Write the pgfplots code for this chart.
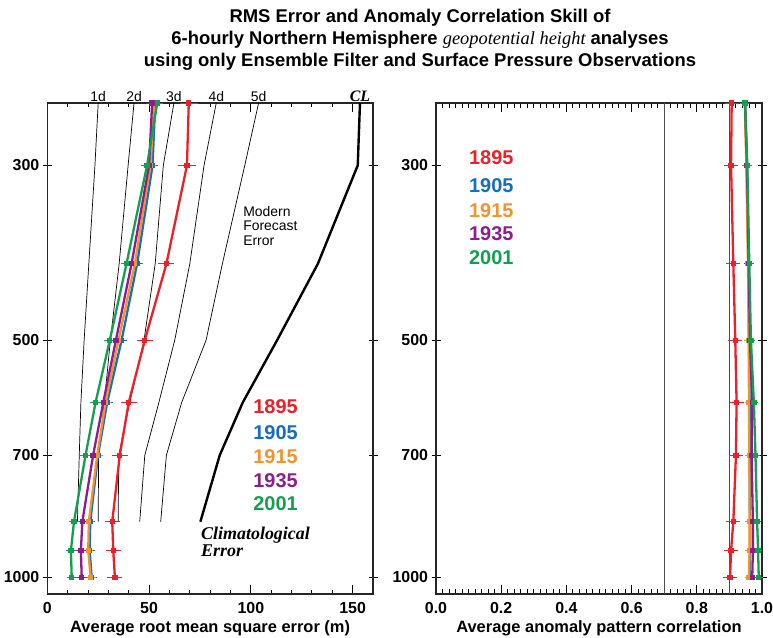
\documentclass[border=0pt]{standalone}
\usepackage{pgfplots}
\pgfplotsset{compat=1.18}
\usepackage{fontspec}
\setmainfont{Liberation Sans}
\newfontfamily\timesf{Liberation Serif}
\definecolor{cred}{RGB}{236,32,40}
\definecolor{cblue}{RGB}{22,110,190}
\definecolor{corange}{RGB}{242,148,44}
\definecolor{cpurple}{RGB}{140,30,140}
\definecolor{cgreen}{RGB}{20,158,80}
\pgfplotsset{
  ser/.style={color=#1, line width=2.3bp, mark=square*, mark size=1.5bp,
    error bars/.cd, x dir=both, x explicit, error bar style={line width=0.8bp},
    error mark options={mark size=3bp, line width=0.8bp}},
  fc/.style={black, line width=0.7bp},
  every tick label/.append style={font=\bfseries\fontsize{16}{16}\selectfont},
}
\begin{document}
\begin{tikzpicture}[x=1bp,y=1bp]
\useasboundingbox (0,0) rectangle (773,638);
\node[align=center, font=\bfseries\fontsize{18.5}{22}\selectfont] at (420,598)
 {RMS Error and Anomaly Correlation Skill of\\
  6-hourly Northern Hemisphere {\timesf\mdseries\itshape geopotential height} analyses\\
  using only Ensemble Filter and Surface Pressure Observations};

\begin{axis}[at={(47.3bp,44bp)}, anchor=south west, scale only axis,
  width=325.7bp, height=491bp, clip=false,
  xmin=0, xmax=160, ymode=log, y dir=reverse, ymin=250, ymax=1050,
  xtick={0,50,100,150}, minor x tick num=4,
  ytick={300,500,700,1000}, yticklabels={300,500,700,1000}, yminorticks=false,
  /pgf/number format/assume math mode=true,
  xtick align=inside, ytick align=center,
  major tick length=9bp, minor tick length=4bp,
  tick style={black, line width=0.9bp},
  axis line style={black!85, line width=1.3bp},
  xticklabel style={yshift=-5bp},
  xlabel={Average root mean square error (m)},
  xlabel style={font=\bfseries\fontsize{16.5}{16.5}\selectfont, at={(axis description cs:0.5,0)}, anchor=center, yshift=-34bp},
]
% modern forecast error lines
\addplot[fc] coordinates {(25,250) (23.4,300) (20.4,400) (18.1,500) (16.5,600) (15.7,700) (14.8,850)};
\addplot[fc] coordinates {(42.6,250) (39.7,300) (35.3,400) (31,500) (28,600) (25.2,700) (25,850)};
\addplot[fc] coordinates {(62.2,250) (57,300) (53,400) (47.5,500) (40.5,600) (35.1,700) (34.8,850)};
\addplot[fc] coordinates {(83,250) (77,300) (70,400) (62.6,500) (54.8,600) (47.9,700) (45.4,850)};
\addplot[fc] coordinates {(103.8,250) (97,300) (86,400) (78,500) (66,600) (58.5,700) (55.7,850)};
\addplot[black, line width=2.4bp] coordinates {(153.6,250) (152.5,300) (132.9,400) (112.9,500) (96,600) (84.7,700) (75.2,850)};
% analyses
\addplot[ser=cred] table[x=x, y=p, x error=e, row sep=\\] {
p x e\\ 250 69.5 3\\ 300 68.6 3\\ 400 58.5 2.5\\ 500 47.9 2.5\\ 600 40 2.5\\ 700 35.6 2.5\\ 850 31.9 2.2\\ 925 32.4 2.2\\ 1000 33.2 2.2\\};
\addplot[ser=cblue] table[x=x, y=p, x error=e, row sep=\\] {
p x e\\ 250 53 1.3\\ 300 51.7 1.3\\ 400 44.1 1.2\\ 500 36.5 1.2\\ 600 29.4 1.2\\ 700 24.9 1.2\\ 850 21.1 1\\ 925 20.8 1\\ 1000 21.8 1\\};
\addplot[ser=corange] table[x=x, y=p, x error=e, row sep=\\] {
p x e\\ 250 52.5 1.3\\ 300 50.7 1.3\\ 400 43 1.2\\ 500 35 1.2\\ 600 28.6 1.2\\ 700 24.5 1.2\\ 850 20.4 1\\ 925 20.1 1\\ 1000 21.3 1\\};
\addplot[ser=cpurple] table[x=x, y=p, x error=e, row sep=\\] {
p x e\\ 250 51.5 1.3\\ 300 50 1.3\\ 400 41.4 1.2\\ 500 33.7 1.2\\ 600 27.5 1.2\\ 700 22.5 1.2\\ 850 17.2 1\\ 925 16.5 1\\ 1000 16.9 1\\};
\addplot[ser=cgreen] table[x=x, y=p, x error=e, row sep=\\] {
p x e\\ 250 54 1.3\\ 300 49 1.3\\ 400 38.9 1.2\\ 500 30.7 1.2\\ 600 23.7 1.2\\ 700 18.8 1.2\\ 850 13.1 1\\ 925 11.6 1\\ 1000 12 1\\};
% labels
\node[anchor=south, font=\fontsize{14}{14}\selectfont, inner sep=1.5bp] at (axis cs:25,250) {1d};
\node[anchor=south, font=\fontsize{14}{14}\selectfont, inner sep=1.5bp] at (axis cs:42.6,250) {2d};
\node[anchor=south, font=\fontsize{14}{14}\selectfont, inner sep=1.5bp] at (axis cs:62.2,250) {3d};
\node[anchor=south, font=\fontsize{14}{14}\selectfont, inner sep=1.5bp] at (axis cs:83,250) {4d};
\node[anchor=south, font=\fontsize{14}{14}\selectfont, inner sep=1.5bp] at (axis cs:103.8,250) {5d};
\node[anchor=south, font=\timesf\bfseries\itshape\fontsize{16}{16}\selectfont, inner sep=1.5bp] at (axis cs:153.6,250) {CL};
\node[anchor=north west, align=left, inner sep=0, font=\fontsize{14}{14.5}\selectfont] at (rel axis cs:0.601,0.79) {Modern\\Forecast\\Error};
\node[anchor=north west, align=left, inner sep=0, font=\timesf\bfseries\itshape\fontsize{18}{17}\selectfont] at (rel axis cs:0.472,0.137) {Climatological\\Error};
\node[anchor=west, inner sep=0, text=cred, font=\bfseries\fontsize{20}{20}\selectfont] at (rel axis cs:0.632,0.381) {1895};
\node[anchor=west, inner sep=0, text=cblue, font=\bfseries\fontsize{20}{20}\selectfont] at (rel axis cs:0.632,0.328) {1905};
\node[anchor=west, inner sep=0, text=corange, font=\bfseries\fontsize{20}{20}\selectfont] at (rel axis cs:0.632,0.279) {1915};
\node[anchor=west, inner sep=0, text=cpurple, font=\bfseries\fontsize{20}{20}\selectfont] at (rel axis cs:0.632,0.230) {1935};
\node[anchor=west, inner sep=0, text=cgreen, font=\bfseries\fontsize{20}{20}\selectfont] at (rel axis cs:0.632,0.185) {2001};
\end{axis}

\begin{axis}[at={(436bp,44bp)}, anchor=south west, scale only axis,
  width=326bp, height=491bp, clip=false,
  xmin=0, xmax=1, ymode=log, y dir=reverse, ymin=250, ymax=1050,
  xtick={0,0.2,0.4,0.6,0.8,1.0}, xticklabels={0.0,0.2,0.4,0.6,0.8,1.0}, minor x tick num=9,
  ytick={300,500,700,1000}, yticklabels={300,500,700,1000}, yminorticks=false,
  xtick align=inside, ytick align=center,
  major tick length=9bp, minor tick length=5bp,
  tick style={black, line width=0.9bp},
  axis line style={black!85, line width=1.3bp},
  xticklabel style={yshift=-5bp},
  xlabel={Average anomaly pattern correlation},
  xlabel style={font=\bfseries\fontsize{16.5}{16.5}\selectfont, at={(axis description cs:0.5,0)}, anchor=center, yshift=-34bp},
]
\addplot[black!70, line width=1.1bp] coordinates {(0.7,250) (0.7,1050)};
\addplot[black!70, line width=1.1bp] coordinates {(0.9,250) (0.9,1050)};
\addplot[ser=cred] table[x=x, y=p, x error=e, row sep=\\] {
p x e\\ 250 0.907 0.012\\ 300 0.905 0.012\\ 400 0.912 0.012\\ 500 0.918 0.012\\ 600 0.922 0.012\\ 700 0.920 0.012\\ 850 0.912 0.012\\ 925 0.905 0.012\\ 1000 0.902 0.012\\};
\addplot[ser=cblue] table[x=x, y=p, x error=e, row sep=\\] {
p x e\\ 250 0.948 0.004\\ 300 0.953 0.004\\ 400 0.958 0.004\\ 500 0.960 0.004\\ 600 0.962 0.004\\ 700 0.962 0.004\\ 850 0.963 0.004\\ 925 0.963 0.004\\ 1000 0.962 0.004\\};
\addplot[ser=corange] table[x=x, y=p, x error=e, row sep=\\] {
p x e\\ 250 0.947 0.004\\ 300 0.952 0.004\\ 400 0.957 0.004\\ 500 0.959 0.004\\ 600 0.960 0.004\\ 700 0.961 0.004\\ 850 0.962 0.004\\ 925 0.962 0.004\\ 1000 0.960 0.004\\};
\addplot[ser=cpurple] table[x=x, y=p, x error=e, row sep=\\] {
p x e\\ 250 0.948 0.004\\ 300 0.954 0.004\\ 400 0.959 0.004\\ 500 0.963 0.004\\ 600 0.970 0.004\\ 700 0.968 0.004\\ 850 0.972 0.004\\ 925 0.972 0.004\\ 1000 0.970 0.004\\};
\addplot[ser=cgreen] table[x=x, y=p, x error=e, row sep=\\] {
p x e\\ 250 0.948 0.004\\ 300 0.955 0.004\\ 400 0.961 0.004\\ 500 0.966 0.004\\ 600 0.975 0.004\\ 700 0.980 0.004\\ 850 0.985 0.004\\ 925 0.988 0.004\\ 1000 0.990 0.004\\};
\node[anchor=west, inner sep=0, text=cred, font=\bfseries\fontsize{20}{20}\selectfont] at (rel axis cs:0.101,0.888) {1895};
\node[anchor=west, inner sep=0, text=cblue, font=\bfseries\fontsize{20}{20}\selectfont] at (rel axis cs:0.101,0.831) {1905};
\node[anchor=west, inner sep=0, text=corange, font=\bfseries\fontsize{20}{20}\selectfont] at (rel axis cs:0.101,0.780) {1915};
\node[anchor=west, inner sep=0, text=cpurple, font=\bfseries\fontsize{20}{20}\selectfont] at (rel axis cs:0.101,0.733) {1935};
\node[anchor=west, inner sep=0, text=cgreen, font=\bfseries\fontsize{20}{20}\selectfont] at (rel axis cs:0.101,0.686) {2001};
\end{axis}
\end{tikzpicture}
\end{document}
